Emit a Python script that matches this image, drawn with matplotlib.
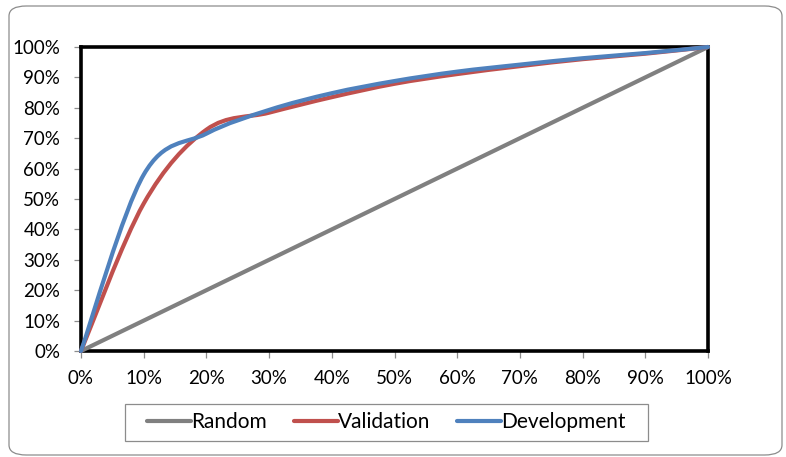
import numpy as np
import matplotlib
matplotlib.use("Agg")
import matplotlib.pyplot as plt
from matplotlib.path import Path
from matplotlib.patches import PathPatch, FancyBboxPatch, Rectangle
from matplotlib.lines import Line2D

plt.rcParams["font.family"] = ["Lato", "DejaVu Sans"]

# Cumulative share of population by decile (%) and captured share (%)
population = [0, 10, 20, 30, 40, 50, 60, 70, 80, 90, 100]
random_pct = [0, 10, 20, 30, 40, 50, 60, 70, 80, 90, 100]
validation = [0, 48.5, 72.8, 78.4, 83.5, 87.9, 91.1, 93.7, 96, 97.8, 100]
development = [0, 58, 71.5, 79.3, 84.8, 88.8, 91.9, 94.2, 96.3, 98, 100]

series_names = ["Random", "Validation", "Development"]
colors = ["#808080", "#C0504D", "#4F81BD"]
tick_labels = ["0%", "10%", "20%", "30%", "40%", "50%", "60%", "70%", "80%", "90%", "100%"]


def smooth_path(xs, ys):
    """Cubic Bezier path through the points, spreadsheet-style smoothing."""
    pts = np.column_stack([xs, ys]).astype(float)
    n = len(pts)
    verts = [pts[0]]
    codes = [Path.MOVETO]
    for i in range(n - 1):
        p_prev = pts[i - 1] if i > 0 else pts[i]
        p0 = pts[i]
        p1 = pts[i + 1]
        p_next = pts[i + 2] if i + 2 < n else pts[i + 1]
        c1 = p0 + (p1 - p_prev) / 6.0
        c2 = p1 - (p_next - p0) / 6.0
        verts += [c1, c2, p1]
        codes += [Path.CURVE4] * 3
    return Path(verts, codes)


W, H = 786, 457
fig = plt.figure(figsize=(W / 100, H / 100), dpi=100)

# rounded chart-area frame, kept behind the axes
frame = FancyBboxPatch((9 / W, 2 / H), 773 / W, 449 / H,
                       boxstyle="round,pad=0,rounding_size=0.022",
                       transform=fig.transFigure, facecolor="white",
                       edgecolor="#8c8c8c", linewidth=0.9, zorder=-5)
fig.patches.append(frame)

ax = fig.add_axes([81 / W, 106 / H, 627 / W, 304 / H])
ax.set_xlim(0, 100)
ax.set_ylim(0, 100)
ax.set_facecolor("white")

for ys, col in zip([random_pct, validation, development], colors):
    patch = PathPatch(smooth_path(population, ys), facecolor="none", edgecolor=col,
                      linewidth=3.0, capstyle="round", joinstyle="round",
                      transform=ax.transData, zorder=5, clip_on=False)
    ax.add_patch(patch)

for s in ax.spines.values():
    s.set_linewidth(2.6)
    s.set_color("black")
    s.set_zorder(4)

ax.set_xticks(range(0, 101, 10))
ax.set_yticks(range(0, 101, 10))
ax.set_xticklabels(tick_labels)
ax.set_yticklabels(tick_labels)
ax.tick_params(axis="both", direction="out", length=5, width=0.9, color="#8c8c8c",
               labelsize=13.5, labelcolor="black")
ax.tick_params(axis="x", pad=9)
ax.tick_params(axis="y", pad=10)

# legend box
legend_box = Rectangle((125 / W, (H - 441) / H), 523 / W, 37 / H,
                       transform=fig.transFigure, facecolor="white",
                       edgecolor="#8c8c8c", linewidth=0.9, zorder=1)
fig.patches.append(legend_box)

handles = [Line2D([], [], color=c, linewidth=3.0, solid_capstyle="round") for c in colors]
leg = fig.legend(handles, series_names, loc="center", ncol=3,
                 bbox_to_anchor=(386.5 / W, (H - 422.5) / H),
                 frameon=False, fontsize=15, handlelength=2.1, handletextpad=0.0,
                 columnspacing=1.3, borderpad=0.3, borderaxespad=0)
leg.set_zorder(2)

fig.savefig("out.png", dpi=100)
